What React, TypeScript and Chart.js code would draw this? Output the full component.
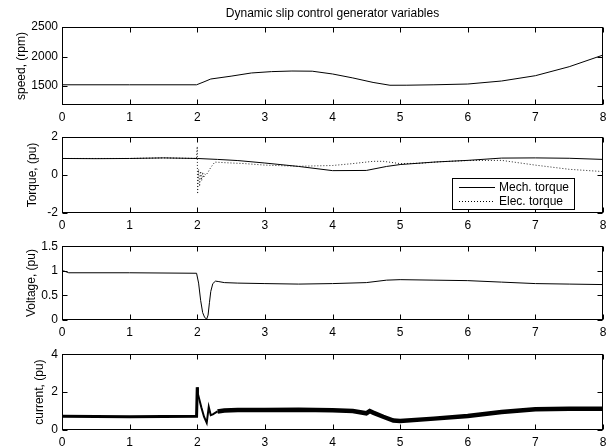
import React, { useEffect, useRef } from 'react';
import { Chart, registerables } from 'chart.js';
Chart.register(...registerables);

const FONT = '"Liberation Sans", Arial, Helvetica, sans-serif';
const FS = 12;

const TITLE = 'Dynamic slip control generator variables';
const X_TICKS = [0, 1, 2, 3, 4, 5, 6, 7, 8];

// Speed (rpm)
const speedT = [0, 1.0, 1.99, 2.1, 2.2, 2.5, 2.8, 3.1, 3.4, 3.7, 4.0, 4.3, 4.6, 4.85, 5.1, 5.5, 6.0, 6.5, 7.0, 7.5, 8.0];
const speedV = [1522, 1522, 1522, 1572, 1620, 1668, 1722, 1745, 1755, 1752, 1705, 1638, 1562, 1514, 1515, 1522, 1535, 1586, 1676, 1828, 2025];
const SPEED_TICKS = [1500, 2000, 2500];

// Torque (pu)
const mechT = [0, 0.5, 1.0, 1.5, 2.0, 2.3, 2.6, 3.0, 3.5, 4.0, 4.5, 4.8, 5.0, 5.5, 6.0, 6.5, 7.0, 7.5, 8.0];
const mechV = [0.87, 0.86, 0.87, 0.9, 0.87, 0.82, 0.76, 0.63, 0.45, 0.23, 0.24, 0.45, 0.55, 0.68, 0.77, 0.89, 0.9, 0.88, 0.82];
const elecT = [0, 1.0, 1.5, 1.99, 2.0, 2.005, 2.02, 2.035, 2.05, 2.065, 2.08, 2.095, 2.11, 2.13, 2.16, 2.2, 2.26, 2.4, 2.7, 3.0, 3.5, 4.0, 4.3, 4.6, 4.75, 5.0, 5.3, 5.6, 6.0, 6.5, 7.0, 7.5, 8.0];
const elecV = [0.87, 0.87, 0.9, 0.87, 1.5, -1.0, 0.3, -0.6, 0.2, -0.3, 0.15, -0.15, 0.05, 0.0, 0.15, 0.4, 0.68, 0.65, 0.6, 0.52, 0.46, 0.5, 0.6, 0.72, 0.72, 0.6, 0.62, 0.7, 0.76, 0.77, 0.52, 0.3, 0.18];
const TORQUE_TICKS = [-2, 0, 2];

// Voltage (pu)
const voltT = [0, 0.02, 0.1, 1.0, 1.99, 2.02, 2.05, 2.08, 2.11, 2.14, 2.16, 2.18, 2.2, 2.23, 2.27, 2.32, 2.4, 2.6, 3.0, 3.5, 4.0, 4.5, 4.8, 5.0, 5.5, 6.0, 6.5, 7.0, 7.5, 8.0];
const voltV = [0.97, 1.0, 0.96, 0.96, 0.95, 0.75, 0.4, 0.15, 0.05, 0.02, 0.1, 0.35, 0.58, 0.74, 0.79, 0.78, 0.76, 0.75, 0.74, 0.73, 0.74, 0.76, 0.81, 0.82, 0.81, 0.8, 0.77, 0.74, 0.73, 0.72];
const VOLT_TICKS = [0, 0.5, 1, 1.5];

// Current (pu)
const curT = [0, 1.0, 1.99, 2.0, 2.01, 2.06, 2.1, 2.14, 2.17, 2.2, 2.23, 2.3, 2.4, 2.6, 3.0, 3.5, 4.0, 4.3, 4.5, 4.55, 4.6, 4.75, 4.9, 5.0, 5.5, 6.0, 6.5, 7.0, 7.5, 8.0];
const curV = [0.72, 0.7, 0.72, 2.25, 1.9, 1.2, 0.7, 0.38, 1.22, 0.78, 0.82, 0.98, 1.03, 1.05, 1.06, 1.07, 1.04, 1.0, 0.88, 1.0, 0.92, 0.7, 0.5, 0.48, 0.6, 0.74, 0.95, 1.09, 1.12, 1.12];
const CURRENT_TICKS = [0, 2, 4];

const pts = (t: number[], v: number[]) => t.map((x, i) => ({ x, y: v[i] }));

type PanelCfg = {
  top: number;
  height: number;
  plotTop: number;
  plotBottom: number;
  yMin: number;
  yMax: number;
  yTicks: number[];
  yTitle: string;
  yTitleX: number;
  datasets: any[];
  title?: string;
  legend?: boolean;
};

const panels: PanelCfg[] = [
  {
    top: 0, height: 125, plotTop: 27, plotBottom: 105,
    yMin: 1180, yMax: 2500, yTicks: SPEED_TICKS, yTitle: 'speed, (rpm)', yTitleX: 22,
    title: TITLE,
    datasets: [{ data: pts(speedT, speedV), borderColor: '#000', borderWidth: 1 }],
  },
  {
    top: 125, height: 110, plotTop: 12, plotBottom: 88,
    yMin: -2, yMax: 2, yTicks: TORQUE_TICKS, yTitle: 'Torque, (pu)', yTitleX: 33,
    legend: true,
    datasets: [
      { data: pts(mechT, mechV), borderColor: '#000', borderWidth: 1 },
      { data: pts(elecT, elecV), borderColor: '#222', borderWidth: 1, borderDash: [1, 2] },
    ],
  },
  {
    top: 235, height: 108, plotTop: 9, plotBottom: 85,
    yMin: 0, yMax: 1.5, yTicks: VOLT_TICKS, yTitle: 'Voltage, (pu)', yTitleX: 32,
    datasets: [{ data: pts(voltT, voltV), borderColor: '#000', borderWidth: 1 }],
  },
  {
    top: 343, height: 103, plotTop: 10, plotBottom: 87,
    yMin: 0, yMax: 4, yTicks: CURRENT_TICKS, yTitle: 'current, (pu)', yTitleX: 40,
    datasets: [{
      data: pts(curT, curV), borderColor: '#000', borderWidth: 4,
      segment: {
        borderWidth: (c: any) => {
          const x = c.p0.parsed.x;
          if (x < 1.995) return 3;
          if (x < 2.28) return 2;
          return 4.5;
        },
      },
    }],
  },
];

function buildConfig(cfg: PanelCfg): any {
  const framePlugin = {
    id: 'matlabFrame',
    afterDatasetsDraw(chart: any) {
      const { ctx, chartArea } = chart;
      const xs = chart.scales.x;
      const ys = chart.scales.y;
      const L = Math.round(chartArea.left) + 0.5;
      const R = Math.round(chartArea.right) - 0.5;
      const T = Math.round(chartArea.top) + 0.5;
      const B = Math.round(chartArea.bottom) - 0.5;
      ctx.save();
      ctx.strokeStyle = '#000';
      ctx.lineWidth = 1;
      ctx.setLineDash([]);
      ctx.strokeRect(L, T, R - L, B - T);
      const tl = 5;
      ctx.beginPath();
      X_TICKS.forEach((v) => {
        const px = Math.round(xs.getPixelForValue(v)) + 0.5;
        ctx.moveTo(px, T); ctx.lineTo(px, T + tl);
        ctx.moveTo(px, B); ctx.lineTo(px, B - tl);
      });
      cfg.yTicks.forEach((v) => {
        const py = Math.round(ys.getPixelForValue(v)) + 0.5;
        ctx.moveTo(L, py); ctx.lineTo(L + tl, py);
        ctx.moveTo(R, py); ctx.lineTo(R - tl, py);
      });
      ctx.stroke();

      ctx.fillStyle = '#000';
      ctx.font = `${FS}px ${FONT}`;
      // y title
      ctx.save();
      ctx.translate(cfg.yTitleX, (chartArea.top + chartArea.bottom) / 2);
      ctx.rotate(-Math.PI / 2);
      ctx.textAlign = 'center';
      ctx.textBaseline = 'middle';
      ctx.fillText(cfg.yTitle, 0, 0);
      ctx.restore();

      if (cfg.title) {
        ctx.textAlign = 'center';
        ctx.textBaseline = 'middle';
        ctx.fillText(cfg.title, (chartArea.left + chartArea.right) / 2, 14);
      }

      if (cfg.legend) {
        const bx = 452.5, by = 53.5, bw = 122, bh = 31;
        ctx.fillStyle = '#fff';
        ctx.fillRect(bx, by, bw, bh);
        ctx.strokeStyle = '#000';
        ctx.strokeRect(bx, by, bw, bh);
        const rows = [
          { label: 'Mech. torque', dash: [] as number[], y: 62 },
          { label: 'Elec. torque', dash: [1, 2], y: 76 },
        ];
        rows.forEach((r) => {
          ctx.setLineDash(r.dash);
          ctx.beginPath();
          ctx.moveTo(459, r.y + 0.5);
          ctx.lineTo(495, r.y + 0.5);
          ctx.stroke();
          ctx.setLineDash([]);
          ctx.fillStyle = '#000';
          ctx.textAlign = 'left';
          ctx.textBaseline = 'middle';
          ctx.fillText(r.label, 499, r.y + 0.5);
        });
      }
      ctx.restore();
    },
  };

  return {
    type: 'line',
    data: {
      datasets: cfg.datasets.map((d) => ({
        ...d,
        pointRadius: 0,
        fill: false,
        tension: 0,
        spanGaps: true,
      })),
    },
    options: {
      animation: false,
      responsive: false,
      events: [],
      layout: { padding: { top: cfg.plotTop, right: 13, left: 0, bottom: 0 } },
      plugins: { legend: { display: false }, tooltip: { enabled: false }, title: { display: false } },
      scales: {
        x: {
          type: 'linear',
          min: 0,
          max: 8,
          afterBuildTicks: (s: any) => { s.ticks = X_TICKS.map((v) => ({ value: v })); },
          afterFit: (s: any) => { s.height = cfg.height - cfg.plotBottom; },
          grid: { display: false, drawTicks: false },
          border: { display: false },
          ticks: {
            padding: 5, color: '#000', maxRotation: 0, autoSkip: false,
            font: { family: FONT, size: FS },
            callback: (v: any) => String(v),
          },
        },
        y: {
          type: 'linear',
          min: cfg.yMin,
          max: cfg.yMax,
          afterBuildTicks: (s: any) => { s.ticks = cfg.yTicks.map((v) => ({ value: v })); },
          afterFit: (s: any) => { s.width = 62; },
          grid: { display: false, drawTicks: false },
          border: { display: false },
          ticks: {
            padding: 4, color: '#000', autoSkip: false,
            font: { family: FONT, size: FS },
            callback: (v: any) => String(v),
          },
        },
      },
    },
    plugins: [framePlugin],
  };
}

function Panel({ cfg }: { cfg: PanelCfg }) {
  const ref = useRef<HTMLCanvasElement>(null);
  useEffect(() => {
    const chart = new Chart(ref.current as HTMLCanvasElement, buildConfig(cfg));
    return () => chart.destroy();
  }, []);
  return (
    <canvas
      ref={ref}
      width={616}
      height={cfg.height}
      style={{ position: 'absolute', left: 0, top: cfg.top, width: 616, height: cfg.height, display: 'block' }}
    />
  );
}

export default function App() {
  return (
    <div style={{ position: 'fixed', left: 0, top: 0, width: 616, height: 446, background: '#fff' }}>
      {panels.map((p, i) => (
        <Panel key={i} cfg={p} />
      ))}
    </div>
  );
}
